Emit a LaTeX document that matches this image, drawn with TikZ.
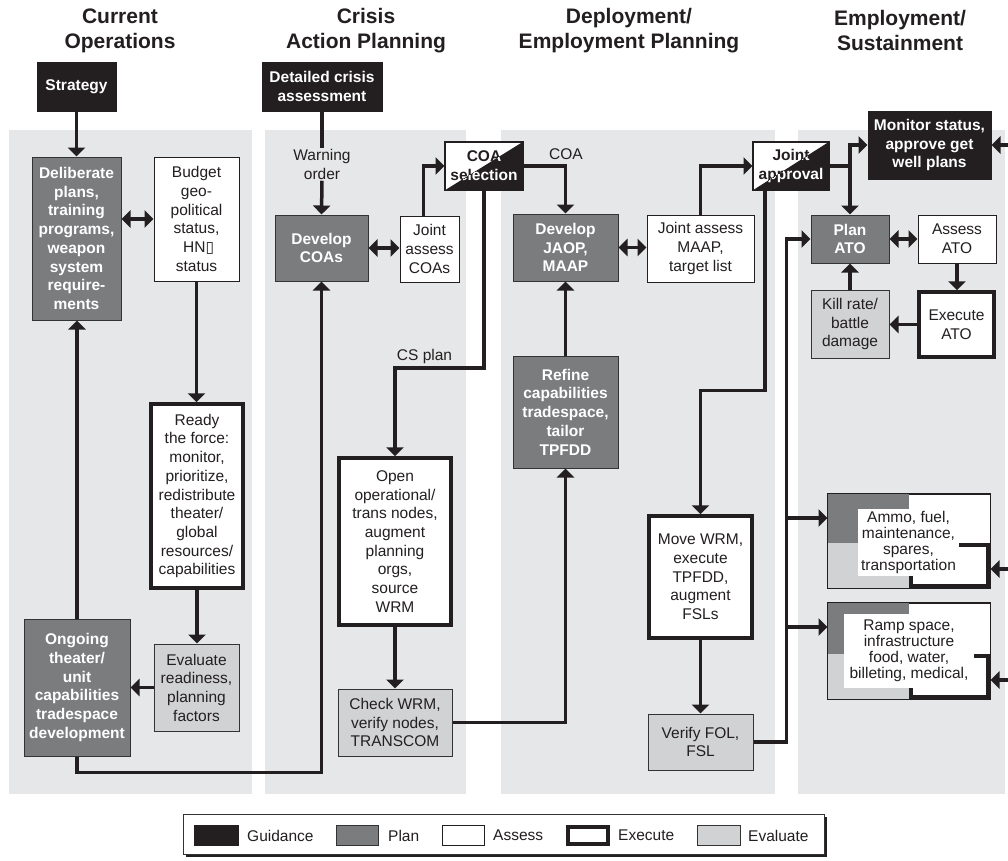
\documentclass[tikz,border=0pt]{standalone}
\usepackage{fontspec}
\setmainfont{Liberation Sans}
\newfontfamily\dejavu{DejaVu Sans}
\usetikzlibrary{arrows.meta}
\definecolor{guide}{HTML}{231F20}
\definecolor{planc}{HTML}{7B7C7E}
\definecolor{evalc}{HTML}{D1D2D4}
\definecolor{panel}{HTML}{E6E7E8}
\definecolor{edgec}{HTML}{333333}
\begin{document}
\begin{tikzpicture}[x=1pt,y=-1pt,
  sz/.style 2 args={minimum width=#1pt, minimum height=#2pt},
  txt/.style={font=\fontsize{15.5}{18.7}\selectfont, align=center, text=guide},
  btxt/.style={font=\bfseries\fontsize{15.5}{18.7}\selectfont, align=center},
  stxt/.style={font=\fontsize{15.5}{16}\selectfont, align=center, text=guide},
  head/.style={font=\bfseries\fontsize{21}{25}\selectfont, align=center, text=guide},
  guidebox/.style={rectangle, fill=guide, draw=guide, line width=1pt, btxt, text=white, inner sep=0pt},
  planbox/.style={rectangle, fill=planc, draw=edgec, line width=1pt, btxt, text=white, inner sep=0pt},
  assessbox/.style={rectangle, fill=white, draw=guide, line width=1pt, txt, inner sep=0pt},
  execbox/.style={rectangle, fill=white, draw=guide, line width=3.5pt, txt, inner sep=0pt},
  evalbox/.style={rectangle, fill=evalc, draw=edgec, line width=1pt, txt, inner sep=0pt},
  link/.style={draw=guide, line width=3.5pt},
  conn/.style={link, -{Triangle[length=9pt,width=17pt]}},
  dbl/.style={link, {Triangle[length=9pt,width=17pt]}-{Triangle[length=9pt,width=17pt]}},
  lbl/.style={txt, inner sep=1pt}
]
\useasboundingbox (0,0) rectangle (1008,860);
\fill[white] (0,0) rectangle (1008,860);

% panels
\fill[panel] (9,130) rectangle (252,794);
\fill[panel] (265,130) rectangle (466,794);
\fill[panel] (501,130) rectangle (775,794);
\fill[panel] (798,130) rectangle (1005,794);

% headers
\node[head] (h1) at (120,30.5) {Current\\Operations};
\node[head] (h2) at (366,30.5) {Crisis\\Action Planning};
\node[head] (h3) at (629,30.5) {Deployment/\\Employment Planning};
\node[head] (h4) at (900,30.5) {Employment/\\Sustainment};

% column 1
\node[guidebox, sz={79}{49}] (strat) at (76.5,86.5) {Strategy};
\node[planbox, sz={89}{163}] (delib) at (76.5,238.5) {Deliberate\\plans,\\training\\programs,\\weapon\\system\\require-\\ments};
\node[assessbox, sz={85}{124}] (budget) at (196.5,219) {Budget\\geo-\\political\\status,\\\ HN{\dejavu ▯}\\status};
\node[execbox, sz={92}{184}] (ready) at (197,496) {Ready\\the force:\\monitor,\\prioritize,\\redistribute\\theater/\\global\\resources/\\capabilities};
\node[evalbox, sz={85}{87}] (evr) at (196.5,687.5) {Evaluate\\readiness,\\planning\\factors};
\node[planbox, sz={106}{137}] (ongo) at (77,687.5) {Ongoing\\theater/\\unit\\capabilities\\tradespace\\development};

% column 2
\node[guidebox, sz={120}{49}] (crisis) at (322,86.5) {Detailed crisis\\assessment};
\node[planbox, sz={93}{66}] (dcoa) at (321.5,248) {Develop\\COAs};
\node[assessbox, sz={59}{66}] (jac) at (429.5,249) {Joint\\assess\\COAs};
\node[execbox, sz={112}{167}] (open) at (395,541.5) {Open\\operational/\\trans nodes,\\augment\\planning\\orgs,\\source\\WRM};
\node[evalbox, sz={114}{67}] (check) at (395,722.5) {Check WRM,\\verify nodes,\\TRANSCOM};

% COA selection (split box)
\node[draw=guide, line width=1pt, fill=white, sz={78}{48}, inner sep=0pt] (coa) at (484,166) {};
\fill[guide] (coa.north east) -- (coa.south east) -- (coa.south west) -- cycle;
\begin{scope}
\clip (coa.north west) -- (coa.north east) -- (coa.south west) -- cycle;
\node[btxt, text=guide] (coaA) at (coa.center) {COA\\selection};
\end{scope}
\begin{scope}
\clip (coa.north east) -- (coa.south east) -- (coa.south west) -- cycle;
\node[btxt, text=white] (coaB) at (coa.center) {COA\\selection};
\end{scope}
\draw[guide, line width=1pt] (coa.north west) rectangle (coa.south east);

% column 3
\node[planbox, sz={105}{67}] (djaop) at (565.5,247.5) {Develop\\JAOP,\\MAAP};
\node[assessbox, sz={107}{67}] (jam) at (700.5,248.5) {Joint assess\\MAAP,\\target list};
\node[planbox, sz={105}{112}] (refine) at (565.5,412) {Refine\\capabilities\\tradespace,\\tailor\\TPFDD};
\node[execbox, sz={103}{122}] (move) at (700.5,577) {Move WRM,\\execute\\TPFDD,\\augment\\FSLs};
\node[evalbox, sz={105}{56}] (verify) at (700.5,742) {Verify FOL,\\FSL};

% Joint approval (split box)
\node[draw=guide, line width=1pt, fill=white, sz={76}{48}, inner sep=0pt] (ja) at (791,166) {};
\fill[guide] (ja.north east) -- (ja.south east) -- (ja.south west) -- cycle;
\begin{scope}
\clip (ja.north west) -- (ja.north east) -- (ja.south west) -- cycle;
\node[btxt, text=guide] (jaA) at (ja.center) {Joint\\approval};
\end{scope}
\begin{scope}
\clip (ja.north east) -- (ja.south east) -- (ja.south west) -- cycle;
\node[btxt, text=white] (jaB) at (ja.center) {Joint\\approval};
\end{scope}
\draw[guide, line width=1pt] (ja.north west) rectangle (ja.south east);

% column 4
\node[guidebox, sz={123}{68}] (mon) at (929.5,145) {Monitor status,\\approve get\\well plans};
\node[planbox, sz={78}{48}] (pato) at (850,239) {Plan\\ATO};
\node[assessbox, sz={78}{48}] (aato) at (957,239) {Assess\\ATO};
\node[evalbox, sz={78}{68}] (kill) at (850,324) {Kill rate/\\battle\\damage};
\node[execbox, sz={75}{65}] (eato) at (956.5,324.5) {Execute\\ATO};

% Ammo composite box
\node[draw=guide, line width=1pt, fill=white, sz={162}{94}, inner sep=0pt] (ammo) at (909,541) {};
\fill[planc] (ammo.north west) rectangle (909,543);
\fill[evalc] (ammo.south west) rectangle (909,543);
\draw[guide, line width=3.5pt] (911,545) rectangle (988,586);
\draw[guide, line width=1pt] (ammo.north west) rectangle (ammo.south east);
\node[fill=white, stxt, sz={101}{67}, inner sep=0pt] (ammotxt) at (908.5,542.5) {Ammo, fuel,\\maintenance,\\spares,\\transportation};

% Ramp composite box
\node[draw=guide, line width=1pt, fill=white, sz={162}{96}, inner sep=0pt] (ramp) at (909,651) {};
\fill[planc] (ramp.north west) rectangle (909,654);
\fill[evalc] (ramp.south west) rectangle (909,654);
\draw[guide, line width=3.5pt] (911,656) rectangle (988,697);
\draw[guide, line width=1pt] (ramp.north west) rectangle (ramp.south east);
\node[fill=white, stxt, sz={130}{74}, inner sep=0pt] (ramptxt) at (909,651) {Ramp space,\\infrastructure\\food, water,\\billeting, medical,};

% labels
\node[lbl] (warn) at (322,164.5) {Warning\\order};
\node[lbl] (cslbl) at (424.5,356) {CS plan};
\node[lbl] (coalbl) at (566,154) {COA};

% coordinates
\coordinate (csb) at (395,368);
\coordinate (jn) at (ja.east -| pato.north);
\coordinate (bus) at ([xshift=-24pt]pato.west);
\coordinate (busA) at (787,518);
\coordinate (busR) at (787,627);
\coordinate (eM) at (1008,145);
\coordinate (eA) at (1008,569);
\coordinate (eR) at (1008,680);

% connectors column 1
\draw[conn] (strat.south) -- (delib.north);
\draw[dbl] (budget.west -| delib.east) -- (budget.west);
\draw[conn] (budget.south) -- (budget.south |- ready.north);
\draw[conn] (ready.south) -- (ready.south |- evr.north);
\draw[conn] (evr.west) -- (evr.west -| ongo.east);
\draw[conn] (ongo.north) -- (ongo.north |- delib.south);
\draw[conn] (ongo.south) -- ++(0,16) -| (dcoa.south);

% column 2
\draw[link] (crisis.south) -- (warn.north);
\draw[conn] (warn.south) -- (dcoa.north);
\draw[dbl] (dcoa.east) -- (dcoa.east -| jac.west);
\draw[conn] ([xshift=-6pt]jac.north) |- (coa.west);
\draw[conn] (coa.south) |- (csb) -- (open.north);
\draw[conn] (open.south) -- (check.north);

% column 3
\draw[conn] (coa.east) -| (djaop.north);
\draw[dbl] (djaop.east) -- (djaop.east -| jam.west);
\draw[conn] (jam.north) |- (ja.west);
\draw[conn] (refine.north) -- (djaop.south);
\draw[conn] (check.east) -| (refine.south);
\draw[conn] ([xshift=-26pt]ja.south) -- ++(0,200) -| (move.north);
\draw[conn] (move.south) -- (verify.north);

% column 4
\draw[link] (ja.east) -- (jn);
\draw[conn] (jn) |- (mon.west);
\draw[conn] (jn) -- (pato.north);
\draw[conn] (verify.east) -| (bus) -- (pato.west);
\draw[conn] (busA) -- (busA -| ammo.west);
\draw[conn] (busR) -- (busR -| ramp.west);
\draw[dbl] (pato.east) -- (aato.west);
\draw[conn] (aato.south) -- (aato.south |- eato.north);
\draw[conn] (eato.west) -- (eato.west -| kill.east);
\draw[conn] (kill.north) -- (pato.south);
\draw[conn] (eM) -- (mon.east);
\draw[conn] (eA) -- (eA -| ammo.east);
\draw[conn] (eR) -- (eR -| ramp.east);

% legend
\fill[guide] (186,817) rectangle (827,857);
\node[draw=edgec, fill=white, line width=1pt, sz={641}{40}, inner sep=0pt] (leg) at (503.5,834) {};
\node[rectangle, fill=guide, draw=guide, line width=1pt, sz={44}{20}, inner sep=0pt] (sw1) at (216.5,835.5) {};
\node[txt, anchor=west, inner sep=0pt] (lt1) at (247,835.5) {Guidance};
\node[rectangle, fill=planc, draw=edgec, line width=1pt, sz={42}{20}, inner sep=0pt] (sw2) at (357.5,835.5) {};
\node[txt, anchor=west, inner sep=0pt] (lt2) at (388,835.5) {Plan};
\node[rectangle, fill=white, draw=guide, line width=1pt, sz={42}{20}, inner sep=0pt] (sw3) at (463.5,835.5) {};
\node[txt, anchor=west, inner sep=0pt] (lt3) at (493,835.5) {Assess};
\node[rectangle, fill=white, draw=guide, line width=3.5pt, sz={40}{17}, inner sep=0pt] (sw4) at (588,835.5) {};
\node[txt, anchor=west, inner sep=0pt] (lt4) at (618,835.5) {Execute};
\node[rectangle, fill=evalc, draw=edgec, line width=1pt, sz={43}{20}, inner sep=0pt] (sw5) at (719,835.5) {};
\node[txt, anchor=west, inner sep=0pt] (lt5) at (748,835.5) {Evaluate};
\end{tikzpicture}
\end{document}
